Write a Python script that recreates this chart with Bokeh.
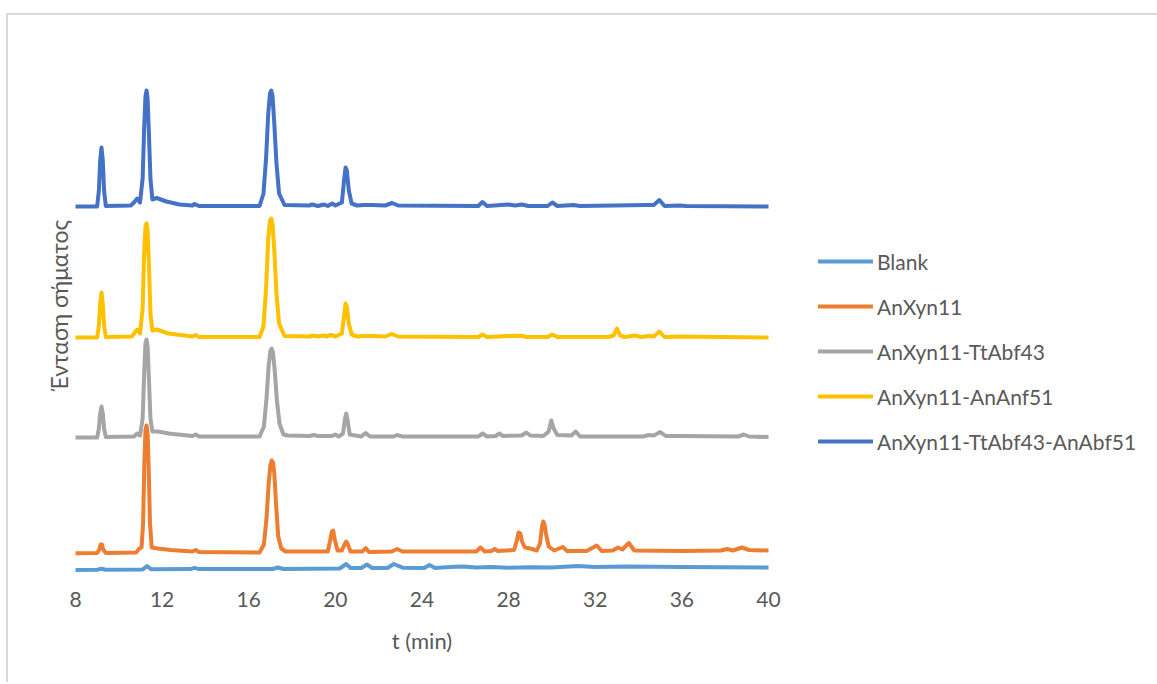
from bokeh.plotting import figure
from bokeh.models import Legend, LegendItem, FixedTicker, Range1d
from bokeh.embed import file_html
from bokeh.resources import INLINE

# ---------------- data (retention time in min, signal as plotted, stacked) ----------------
series_names = ["Blank", "AnXyn11", "AnXyn11-TtAbf43", "AnXyn11-AnAnf51", "AnXyn11-TtAbf43-AnAbf51"]
series_colors = ["#5B9BD5", "#ED7D31", "#A5A5A5", "#FFC000", "#4472C4"]

blank_t = [8, 9.0, 9.2, 9.4, 11.1, 11.3, 11.5, 13.3, 13.5, 13.7, 17.1, 17.35, 17.6, 20.2, 20.5, 20.7,
           21.2, 21.45, 21.7, 22.4, 22.7, 23.1, 24.1, 24.35, 24.6, 25.3, 25.9, 26.5, 27.2, 28.0, 29.0,
           30.0, 31.2, 32.0, 33.5, 36.0, 40]
blank_y = [-1.5, -1.2, -0.3, -1.2, -1.0, 2.5, -0.8, -0.6, 0.6, -0.6, -0.5, 1.0, -0.5, 0.0, 4.5, 0.5,
           0.5, 4.0, 0.5, 0.5, 4.5, 0.8, 0.5, 3.5, 0.5, 1.5, 2.0, 1.0, 1.5, 0.8, 1.2,
           1.0, 2.5, 1.5, 2.0, 1.5, 1.0]

anxyn_t = [8, 9.0, 9.1, 9.16, 9.22, 9.28, 9.4, 10.8, 10.95, 11.05, 11.12, 11.18, 11.23, 11.28, 11.33,
           11.38, 11.44, 11.52, 11.8, 12.4, 13.4, 13.55, 13.7, 16.5, 16.7, 16.82, 16.92, 17.0, 17.06,
           17.12, 17.18, 17.26, 17.36, 17.5, 17.7, 19.65, 19.76, 19.84, 19.9, 19.98, 20.1, 20.3,
           20.42, 20.5, 20.58, 20.7, 21.25, 21.4, 21.55, 22.6, 22.85, 23.1, 26.5, 26.7, 26.9, 27.2,
           27.36, 27.5, 28.25, 28.38, 28.46, 28.54, 28.62, 28.75, 29.0, 29.3, 29.45, 29.54, 29.6,
           29.66, 29.74, 29.85, 30.1, 30.5, 30.7, 31.6, 32.07, 32.3, 32.8, 33.05, 33.25, 33.55, 33.8,
           36.0, 37.8, 38.1, 38.35, 38.78, 39.1, 40]
anxyn_y = [15.3, 15.5, 19, 24, 24, 19, 15.5, 16, 20, 21, 45, 105, 138, 143, 135,
           100, 45, 21, 20, 18.5, 17, 18.5, 16.5, 16, 24, 50, 85, 103, 108,
           106, 95, 65, 32, 20, 17, 17, 28, 37, 38, 28, 18, 18,
           24, 27, 24, 17, 17, 20.5, 16.5, 17, 19.5, 17, 17, 21, 17, 17.5,
           19.5, 17.5, 18.5, 28, 36, 35, 27, 21, 20, 18, 25, 42, 47,
           44, 33, 22, 18, 21.5, 17.5, 17.5, 23, 17.5, 18, 21, 19, 25.5, 18,
           17.5, 18, 19.5, 18, 21, 18.5, 18]

tt43_t = [8, 9.0, 9.08, 9.14, 9.2, 9.26, 9.32, 9.4, 10.7, 10.85, 10.98, 11.1, 11.17, 11.23, 11.28,
          11.33, 11.39, 11.46, 11.55, 11.8, 12.3, 13.4, 13.55, 13.7, 16.5, 16.7, 16.82, 16.92, 17.0,
          17.06, 17.12, 17.2, 17.3, 17.42, 17.6, 17.8, 18.8, 19.0, 19.2, 19.85, 20.0, 20.15, 20.35,
          20.44, 20.5, 20.56, 20.66, 21.2, 21.4, 21.6, 22.7, 22.85, 23.1, 26.6, 26.8, 27.0, 27.4,
          27.57, 27.75, 28.6, 28.82, 29.0, 29.6, 29.85, 29.97, 30.08, 30.25, 30.9, 31.1, 31.3, 34.2,
          34.47, 34.7, 35.0, 35.25, 35.8, 38.6, 38.86, 39.1, 40]
tt43_y = [131, 131, 140, 155, 162, 155, 140, 131.5, 132, 135, 133, 150, 195, 225, 229,
          222, 190, 150, 137, 137, 135, 132.5, 134, 132, 132, 142, 170, 203, 218,
          220, 216, 198, 168, 145, 134, 133, 132.5, 133.5, 132.5, 132.5, 134, 132, 135,
          149, 155, 149, 134, 132, 135.5, 132, 132, 133.5, 132, 132, 135, 132, 132.5,
          135, 132.5, 133, 136, 133, 132.5, 137, 148, 140, 133.5, 133, 137, 132, 132,
          133.5, 133, 136.5, 132.5, 132.5, 132, 134, 132, 131.5]

anf51_t = [8, 9.0, 9.08, 9.14, 9.2, 9.26, 9.32, 9.4, 10.6, 10.85, 10.98, 11.1, 11.17, 11.23, 11.28,
           11.33, 11.39, 11.46, 11.55, 11.75, 12.3, 13.4, 13.55, 13.7, 16.5, 16.68, 16.8, 16.9, 16.98,
           17.04, 17.1, 17.18, 17.28, 17.4, 17.65, 18.8, 18.95, 19.2, 19.45, 19.6, 19.8, 20.0, 20.3,
           20.4, 20.47, 20.53, 20.62, 20.75, 21.0, 21.3, 21.7, 22.3, 22.6, 22.9, 26.6, 26.79, 27.0,
           27.99, 28.62, 28.8, 29.8, 30.02, 30.25, 32.6, 32.85, 33.0, 33.15, 33.35, 33.85, 34.1,
           34.47, 34.7, 34.96, 35.2, 35.9, 40]
anf51_y = [231, 231, 243, 265, 276, 265, 243, 231.5, 232, 239, 235, 260, 315, 342, 345,
           338, 305, 255, 238, 239, 235, 232, 233.5, 231.5, 231.5, 242, 280, 330, 348,
           350, 344, 318, 275, 245, 232.5, 232, 233, 232, 233, 232, 233.5, 232, 235,
           252, 265, 262, 245, 234, 232, 232.5, 232.5, 232, 234.5, 232, 231.5, 234, 231.5,
           232.5, 232.8, 231.5, 231.5, 234, 231.5, 231.5, 233, 240, 233, 231.5, 233, 231.5,
           232.5, 232, 237, 231.5, 232, 231]

all3_t = [8, 9.0, 9.08, 9.14, 9.2, 9.26, 9.32, 9.4, 10.55, 10.7, 10.85, 10.98, 11.1, 11.17, 11.23,
          11.28, 11.33, 11.39, 11.46, 11.55, 11.75, 12.2, 12.8, 13.4, 13.5, 13.7, 16.5, 16.68, 16.8,
          16.9, 16.98, 17.04, 17.1, 17.18, 17.28, 17.4, 17.65, 18.8, 18.93, 19.2, 19.47, 19.65,
          19.85, 20.0, 20.3, 20.4, 20.47, 20.53, 20.62, 20.75, 21.0, 21.3, 21.7, 22.3, 22.62, 22.9,
          26.6, 26.79, 27.0, 27.99, 28.3, 28.62, 28.9, 29.8, 30.02, 30.25, 30.99, 31.3, 34.39, 34.7,
          34.96, 35.2, 35.89, 36.2, 40]
all3_y = [362, 362, 378, 408, 421, 408, 378, 362.5, 363, 366, 370, 366, 390, 440, 472,
          478, 470, 435, 390, 369, 370.5, 367, 364, 363, 364.5, 362.5, 362.5, 375, 410,
          455, 475, 478, 472, 445, 405, 375, 363.5, 363, 364, 362.5, 364, 362.5,
          365, 363, 366, 388, 401, 398, 378, 365, 363, 363.5, 363.5, 363, 365.5, 363,
          362.5, 366.5, 362.5, 364, 363, 364, 362.5, 362.5, 366, 362.5, 363.5, 362.5, 363.5, 363.5,
          368.5, 362.5, 363, 362.5, 362]

x_ticks = [8, 12, 16, 20, 24, 28, 32, 36, 40]

series_t = [blank_t, anxyn_t, tt43_t, anf51_t, all3_t]
series_y = [blank_y, anxyn_y, tt43_y, anf51_y, all3_y]

# ---------------- figure ----------------
FONT = "Lato"
TXT = "#595959"

p = figure(frame_width=693, frame_height=560, output_backend="svg", toolbar_location=None,
           x_range=Range1d(8, 40), y_range=Range1d(-17, 543),
           min_border_left=67, min_border_top=10, min_border_bottom=97, min_border_right=370)
p.styles = {"margin-left": "6px", "margin-top": "13px",
            "border-left": "2px solid #D9D9D9", "border-top": "2px solid #D9D9D9"}
p.background_fill_color = None
p.outline_line_color = None
p.grid.visible = False

p.xaxis.ticker = FixedTicker(ticks=x_ticks)
p.xaxis.axis_line_color = None
p.xaxis.major_tick_line_color = None
p.xaxis.minor_tick_line_color = None
p.xaxis.major_tick_out = 0
p.xaxis.major_label_standoff = 6
p.xaxis.major_label_text_font = FONT
p.xaxis.major_label_text_font_size = "21px"
p.xaxis.major_label_text_color = TXT
p.xaxis.axis_label = "t (min)"
p.xaxis.axis_label_text_font = FONT
p.xaxis.axis_label_text_font_style = "normal"
p.xaxis.axis_label_text_font_size = "22px"
p.xaxis.axis_label_text_color = TXT
p.xaxis.axis_label_standoff = 17

p.yaxis.ticker = FixedTicker(ticks=[])
p.yaxis.axis_line_color = None
p.yaxis.major_tick_line_color = None
p.yaxis.minor_tick_line_color = None
p.yaxis.major_tick_out = 0
p.yaxis.major_label_standoff = 0
p.yaxis.axis_label = "Ένταση σήματος"
p.yaxis.axis_label_text_font = FONT
p.yaxis.axis_label_text_font_style = "normal"
p.yaxis.axis_label_text_font_size = "23px"
p.yaxis.axis_label_text_color = TXT
p.yaxis.axis_label_standoff = 3

renderers = []
for t, y, c in zip(series_t, series_y, series_colors):
    r = p.line(t, y, line_color=c, line_width=4, line_join="round", line_cap="round")
    renderers.append(r)

legend = Legend(items=[LegendItem(label=n, renderers=[r]) for n, r in zip(series_names, renderers)],
                location=(50, 131), orientation="vertical")
legend.glyph_width = 55
legend.glyph_height = 26
legend.label_height = 26
legend.label_standoff = 4
legend.spacing = 19
legend.padding = 0
legend.margin = 0
legend.border_line_color = None
legend.background_fill_alpha = 0
legend.label_text_font = FONT
legend.label_text_font_size = "21px"
legend.label_text_color = TXT
p.add_layout(legend, "right")

open("out.html", "w").write(file_html(p, INLINE))
